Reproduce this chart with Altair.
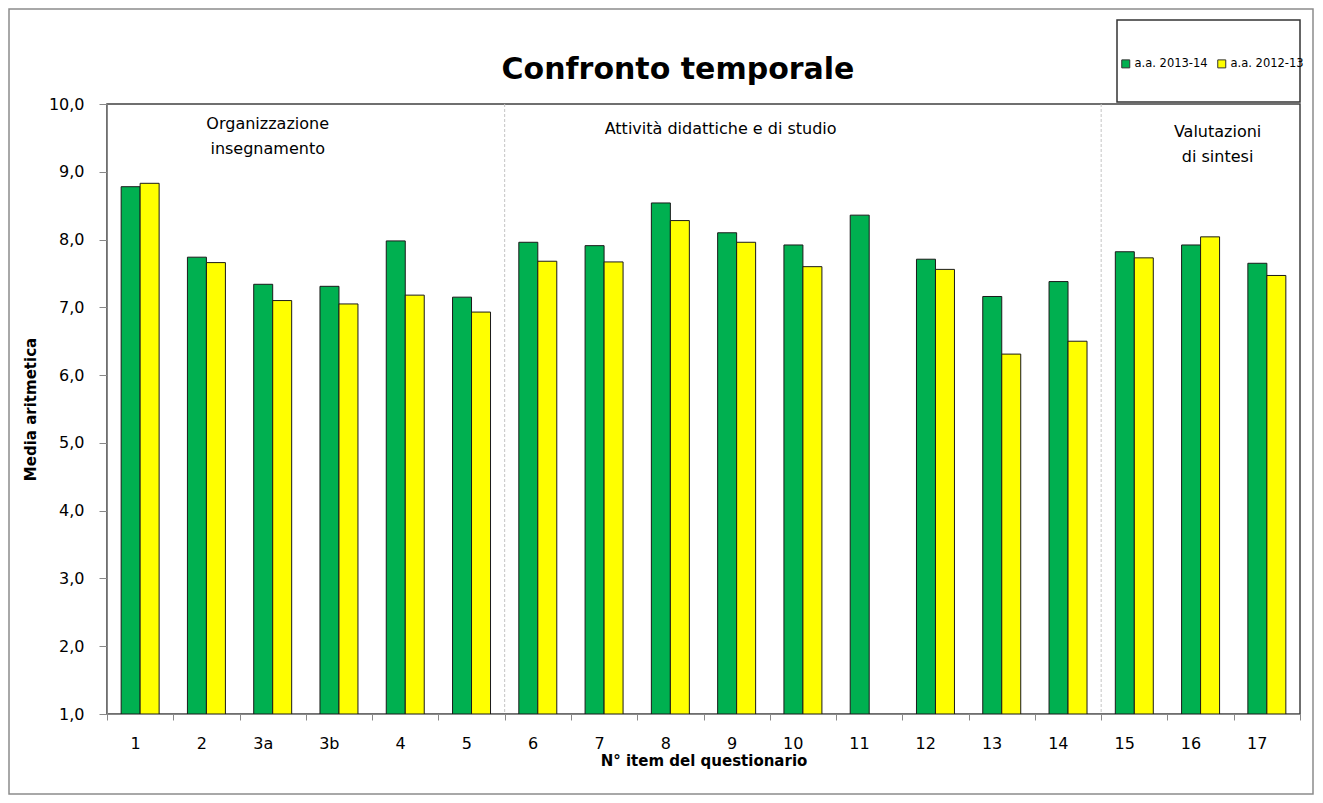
import altair as alt
import pandas as pd

items = ["1", "2", "3a", "3b", "4", "5", "6", "7", "8", "9", "10", "11", "12", "13", "14", "15", "16", "17"]
green_2013_14 = [8.78, 7.74, 7.34, 7.31, 7.98, 7.15, 7.96, 7.91, 8.54, 8.10, 7.92, 8.36, 7.71, 7.16, 7.38, 7.82, 7.92, 7.65]
yellow_2012_13 = [8.83, 7.66, 7.10, 7.05, 7.18, 6.93, 7.68, 7.67, 8.28, 7.96, 7.60, None, 7.56, 6.31, 6.50, 7.73, 8.04, 7.47]
series = ["a.a. 2013-14", "a.a. 2012-13"]
colors = ["#00B050", "#FFFF00"]
y_ticks = [1, 2, 3, 4, 5, 6, 7, 8, 9, 10]

sections = ["6", "15"]
ann_items = ["3a", "9", "16"]
ann_texts = ["Organizzazione\ninsegnamento", "Attività didattiche e di studio", "Valutazioni\ndi sintesi"]
ann_dx = [-5, -16, 17]
ann_y = [12, 17, 20]

FONT = "Comic Sans MS, DejaVu Sans"
W, H = 1193, 610

rows = []
for i, it in enumerate(items):
    rows.append({"item": it, "series": series[0], "value": green_2013_14[i]})
    if yellow_2012_13[i] is not None:
        rows.append({"item": it, "series": series[1], "value": yellow_2012_13[i]})
df = pd.DataFrame(rows)

xenc = alt.X(
    "item:N", sort=items,
    scale=alt.Scale(paddingInner=0, paddingOuter=0),
    axis=alt.Axis(
        title="N° item del questionario", tickBand="extent", labelAngle=0,
        labelFontSize=16, labelFont=FONT, labelColor="black", labelPadding=23,
        titleFontSize=15, titleFont=FONT, titleFontWeight="bold", titleColor="black", titlePadding=2,
        domainColor="#888888", tickColor="#888888", tickSize=6, grid=False, zindex=1,
    ),
)

bars = alt.Chart(df).mark_bar(stroke="#1a1a1a", strokeWidth=1).encode(
    x=xenc,
    xOffset=alt.XOffset("series:N", sort=series, scale=alt.Scale(paddingInner=0, paddingOuter=0.745)),
    y=alt.Y(
        "value:Q",
        scale=alt.Scale(domain=[1, 10], zero=False, nice=False),
        axis=alt.Axis(
            title="Media aritmetica", values=y_ticks,
            labelExpr="replace(format(datum.value, '.1f'), '.', ',')",
            labelFontSize=16, labelFont=FONT, labelColor="black", labelPadding=15,
            titleFontSize=15, titleFont=FONT, titleFontWeight="bold", titleColor="black", titlePadding=10,
            domainColor="#888888", tickColor="#888888", tickSize=8, grid=False, zindex=1,
        ),
    ),
    y2=alt.datum(1),
    color=alt.Color(
        "series:N", sort=series,
        scale=alt.Scale(domain=series, range=colors),
        legend=alt.Legend(
            title=None, orient="none", legendX=1013, legendY=-46, direction="horizontal",
            symbolType="square", symbolSize=64, symbolStrokeColor="#333333", symbolStrokeWidth=1,
            labelFont=FONT, labelFontSize=11.5, labelColor="black", labelOffset=3, columnPadding=7,
            padding=0,
        ),
    ),
)

sep = alt.Chart(pd.DataFrame({"item": sections})).mark_rule(
    color="#c4c4c4", strokeDash=[3, 2], strokeWidth=1
).encode(
    x=alt.X("item:N", sort=items, bandPosition=0),
    y=alt.value(0), y2=alt.value(H),
)

ann_layers = []
for it, txt, dx, yy in zip(ann_items, ann_texts, ann_dx, ann_y):
    ann_layers.append(
        alt.Chart(pd.DataFrame({"item": [it], "label": [txt]})).mark_text(
            font=FONT, fontSize=16, color="black", align="center", baseline="top",
            lineBreak="\n", lineHeight=25, dx=dx,
        ).encode(
            x=alt.X("item:N", sort=items),
            y=alt.value(yy),
            text="label:N",
        )
    )

one = pd.DataFrame({"k": [0]})
frame = alt.Chart(one).mark_rect(fill="white", fillOpacity=0, stroke="#8c8c8c", strokeWidth=1.5).encode(
    x=alt.value(-98), x2=alt.value(W + 13), y=alt.value(-95), y2=alt.value(H + 80),
)
legend_box = alt.Chart(one).mark_rect(fill="white", stroke="#333333", strokeWidth=1.5).encode(
    x=alt.value(1010), x2=alt.value(W), y=alt.value(-84), y2=alt.value(-2),
)
title = alt.Chart(pd.DataFrame({"t": ["Confronto temporale"]})).mark_text(
    font=FONT, fontSize=30, fontWeight="bold", color="black", align="center", baseline="middle",
).encode(
    x=alt.value(571), y=alt.value(-34), text="t:N",
)

chart = alt.layer(frame, legend_box, title, sep, bars, *ann_layers).properties(
    width=W, height=H,
    padding={"left": 99, "top": 96, "right": 15, "bottom": 81},
    autosize=alt.AutoSizeParams(type="none"),
).configure_view(stroke="#404040", strokeWidth=1.5)

chart.save("out.html", embed_options={"renderer": "svg", "actions": False})
